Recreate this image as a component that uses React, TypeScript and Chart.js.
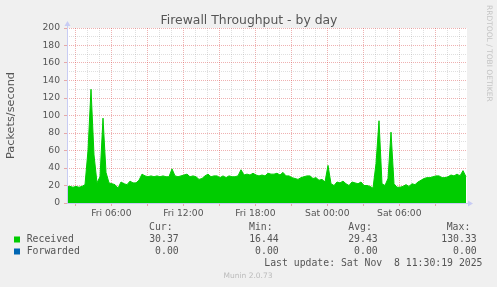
import React, { useEffect, useRef } from 'react';
import { Chart, registerables } from 'chart.js';

Chart.register(...registerables);

// ---------- data ----------
const TITLE = 'Firewall Throughput - by day';
const Y_LABEL = 'Packets/second';
// time axis expressed in hours since Fri 00:00
const START_HOUR = 2.308;
const STEP_HOURS = 0.25;
const END_HOUR = START_HOUR + 400 / 12;

const RECEIVED = [
  19, 19, 18, 19, 18, 19, 21, 60, 130, 55,
  23, 30, 97, 35, 23, 22, 21, 17, 24, 22,
  21, 25, 23, 23, 26, 33, 31, 30, 31, 30,
  31, 30, 31, 30, 30, 39, 31, 30, 31, 32,
  33, 30, 31, 30, 27, 28, 31, 33, 30, 31,
  31, 29, 31, 29, 31, 30, 30, 31, 38, 32,
  33, 32, 34, 32, 31, 32, 31, 34, 33, 33,
  34, 32, 35, 31, 31, 29, 28, 27, 29, 30,
  31, 31, 28, 29, 26, 27, 24, 43, 22, 20,
  24, 23, 25, 22, 20, 24, 23, 22, 24, 20,
  20, 19, 17, 45, 94, 22, 20, 28, 81, 22,
  18, 18, 19, 21, 19, 22, 21, 24, 26, 28,
  29, 29, 30, 31, 31, 29, 29, 30, 32, 31,
  33, 31, 37, 30,
];
const FORWARDED_HOURS = [START_HOUR, END_HOUR];
const FORWARDED = [0, 0];

const Y_MIN = 0;
const Y_MAX = 200;
const Y_STEP = 10;
const X_LABEL_HOURS = [6, 12, 18, 24, 30];
const X_LABELS = ['Fri 06:00', 'Fri 12:00', 'Fri 18:00', 'Sat 00:00', 'Sat 06:00'];

const LEGEND_HEADERS = ['Cur:', 'Min:', 'Avg:', 'Max:'];
const SERIES_NAMES = ['Received', 'Forwarded'];
const SERIES_COLORS = ['#00CC00', '#0066B3'];
const RECEIVED_STATS = ['30.37', '16.44', '29.43', '130.33'];
const FORWARDED_STATS = ['0.00', '0.00', '0.00', '0.00'];
const LAST_UPDATE = 'Last update: Sat Nov  8 11:30:19 2025';
const FOOTER = 'Munin 2.0.73';
const SIDE_TEXT = 'RRDTOOL / TOBI OETIKER';

// ---------- styles ----------
const BG = '#F0F0F0';
const TEXT = '#555555';
const MAJOR_GRID = 'rgba(215,60,60,0.4)';
const MINOR_GRID = 'rgba(140,140,140,0.28)';
const AXIS_COLOR = '#C8CCF4';
const SANS = '"DejaVu Sans", sans-serif';
const MONO = '"DejaVu Sans Mono", monospace';

const decorPlugin = {
  id: 'decor',
  beforeDraw(chart: any) {
    const { ctx, chartArea } = chart;
    ctx.save();
    ctx.fillStyle = BG;
    ctx.fillRect(0, 0, chart.width, chart.height);
    ctx.fillStyle = '#FFFFFF';
    ctx.fillRect(chartArea.left, chartArea.top, chartArea.right - chartArea.left, chartArea.bottom - chartArea.top);
    ctx.restore();
  },
  afterDraw(chart: any) {
    const { ctx, chartArea } = chart;
    const L = chartArea.left;
    const B = chartArea.bottom;
    const R = chartArea.right;
    const T = chartArea.top;
    ctx.save();
    // axes
    ctx.strokeStyle = AXIS_COLOR;
    ctx.fillStyle = AXIS_COLOR;
    ctx.lineWidth = 1;
    ctx.beginPath();
    ctx.moveTo(L + 0.5, B + 1);
    ctx.lineTo(L + 0.5, T - 2);
    ctx.moveTo(L, B + 0.5);
    ctx.lineTo(R + 1, B + 0.5);
    ctx.stroke();
    ctx.beginPath();
    ctx.moveTo(L - 2.5, T - 2);
    ctx.lineTo(L + 3.5, T - 2);
    ctx.lineTo(L + 0.5, T - 7);
    ctx.closePath();
    ctx.fill();
    ctx.beginPath();
    ctx.moveTo(R + 1, B - 2.5);
    ctx.lineTo(R + 1, B + 3.5);
    ctx.lineTo(R + 6, B + 0.5);
    ctx.closePath();
    ctx.fill();

    // title
    ctx.fillStyle = TEXT;
    ctx.font = `12.4px ${SANS}`;
    ctx.textAlign = 'center';
    ctx.textBaseline = 'alphabetic';
    ctx.fillText(TITLE, 249, 24);

    // y label
    ctx.save();
    ctx.translate(11, 115.5);
    ctx.rotate(-Math.PI / 2);
    ctx.font = `11.3px ${SANS}`;
    ctx.textAlign = 'center';
    ctx.textBaseline = 'middle';
    ctx.fillText(Y_LABEL, 0, 0);
    ctx.restore();

    // legend
    ctx.font = `9.8px ${MONO}`;
    ctx.textBaseline = 'middle';
    ctx.textAlign = 'left';
    const headerX = [149, 249, 348.3, 446.7];
    LEGEND_HEADERS.forEach((h, i) => ctx.fillText(h, headerX[i], 227.5));
    const valueRight = [178.7, 278.7, 377.7, 476.7];
    const rows = [RECEIVED_STATS, FORWARDED_STATS];
    const rowY = [239.5, 251.5];
    rows.forEach((stats, r) => {
      ctx.fillStyle = SERIES_COLORS[r];
      ctx.fillRect(14, rowY[r] - 3, 6, 6);
      ctx.fillStyle = TEXT;
      ctx.textAlign = 'left';
      ctx.fillText(SERIES_NAMES[r], 26.7, rowY[r]);
      ctx.textAlign = 'right';
      stats.forEach((s, i) => ctx.fillText(s, valueRight[i], rowY[r]));
    });
    ctx.textAlign = 'right';
    ctx.fillText(LAST_UPDATE, 482.5, 263.5);

    // footer
    ctx.fillStyle = '#BBBBBB';
    ctx.font = `7.5px ${SANS}`;
    ctx.textAlign = 'center';
    ctx.fillText(FOOTER, 248, 276.5);

    // side text
    ctx.save();
    ctx.translate(488.5, 5);
    ctx.rotate(Math.PI / 2);
    ctx.textAlign = 'left';
    ctx.textBaseline = 'middle';
    ctx.fillStyle = '#C4C4C4';
    ctx.fillText(SIDE_TEXT, 0, 0);
    ctx.restore();

    ctx.restore();
  },
};

export default function App() {
  const canvasRef = useRef<HTMLCanvasElement | null>(null);

  useEffect(() => {
    document.body.style.margin = '0';
    document.body.style.background = BG;
    const canvas = canvasRef.current;
    if (!canvas) return;

    const receivedPoints = RECEIVED.map((v, i) => ({ x: START_HOUR + i * STEP_HOURS, y: v }));
    const forwardedPoints = FORWARDED.map((v, i) => ({ x: FORWARDED_HOURS[i], y: v }));

    const chart = new Chart(canvas, {
      type: 'line',
      data: {
        datasets: [
          {
            label: SERIES_NAMES[0],
            data: receivedPoints,
            borderColor: SERIES_COLORS[0],
            backgroundColor: SERIES_COLORS[0],
            borderWidth: 1,
            fill: 'origin',
            pointRadius: 0,
            tension: 0,
          },
          {
            label: SERIES_NAMES[1],
            data: forwardedPoints,
            borderColor: SERIES_COLORS[1],
            backgroundColor: SERIES_COLORS[1],
            borderWidth: 0,
            fill: false,
            pointRadius: 0,
          },
        ],
      },
      options: {
        responsive: false,
        animation: false,
        events: [],
        layout: { padding: { left: 0, top: 28, right: 30, bottom: 64 } },
        plugins: {
          legend: { display: false },
          title: { display: false },
          tooltip: { enabled: false },
        },
        scales: {
          x: {
            type: 'linear',
            min: START_HOUR,
            max: END_HOUR,
            z: 1,
            afterFit: (scale: any) => {
              scale.height = 20;
            },
            afterBuildTicks: (scale: any) => {
              const ticks = [];
              for (let h = Math.ceil(START_HOUR); h <= END_HOUR; h++) ticks.push({ value: h });
              scale.ticks = ticks;
            },
            ticks: {
              autoSkip: false,
              maxRotation: 0,
              padding: 2,
              color: TEXT,
              font: { family: SANS, size: 9.2 },
              callback: (value: any) => {
                const idx = X_LABEL_HOURS.indexOf(Number(value));
                return idx >= 0 ? X_LABELS[idx] : '';
              },
            },
            grid: {
              drawTicks: true,
              tickLength: 3,
              color: (ctx: any) => (ctx.tick && ctx.tick.value % 3 === 0 ? MAJOR_GRID : MINOR_GRID),
              tickColor: (ctx: any) => (ctx.tick && ctx.tick.value % 3 === 0 ? MAJOR_GRID : 'rgba(0,0,0,0)'),
            },
            border: { display: false, dash: [1, 1] },
          },
          y: {
            type: 'linear',
            min: Y_MIN,
            max: Y_MAX,
            z: 1,
            afterFit: (scale: any) => {
              scale.width = 67;
            },
            ticks: {
              stepSize: Y_STEP,
              autoSkip: false,
              padding: 4,
              color: TEXT,
              font: { family: SANS, size: 9.2 },
              callback: (value: any) => (Number(value) % 20 === 0 ? String(value) : ''),
            },
            grid: {
              drawTicks: true,
              tickLength: 3,
              color: (ctx: any) => (ctx.tick && ctx.tick.value % 20 === 0 ? MAJOR_GRID : MINOR_GRID),
              tickColor: (ctx: any) => (ctx.tick && ctx.tick.value % 20 === 0 ? MAJOR_GRID : 'rgba(0,0,0,0)'),
            },
            border: { display: false, dash: [1, 1] },
          },
        },
      },
      plugins: [decorPlugin],
    });

    return () => {
      chart.destroy();
    };
  }, []);

  return (
    <div style={{ width: 497, height: 287, background: BG }}>
      <canvas ref={canvasRef} width={497} height={287} style={{ display: 'block', width: 497, height: 287 }} />
    </div>
  );
}
